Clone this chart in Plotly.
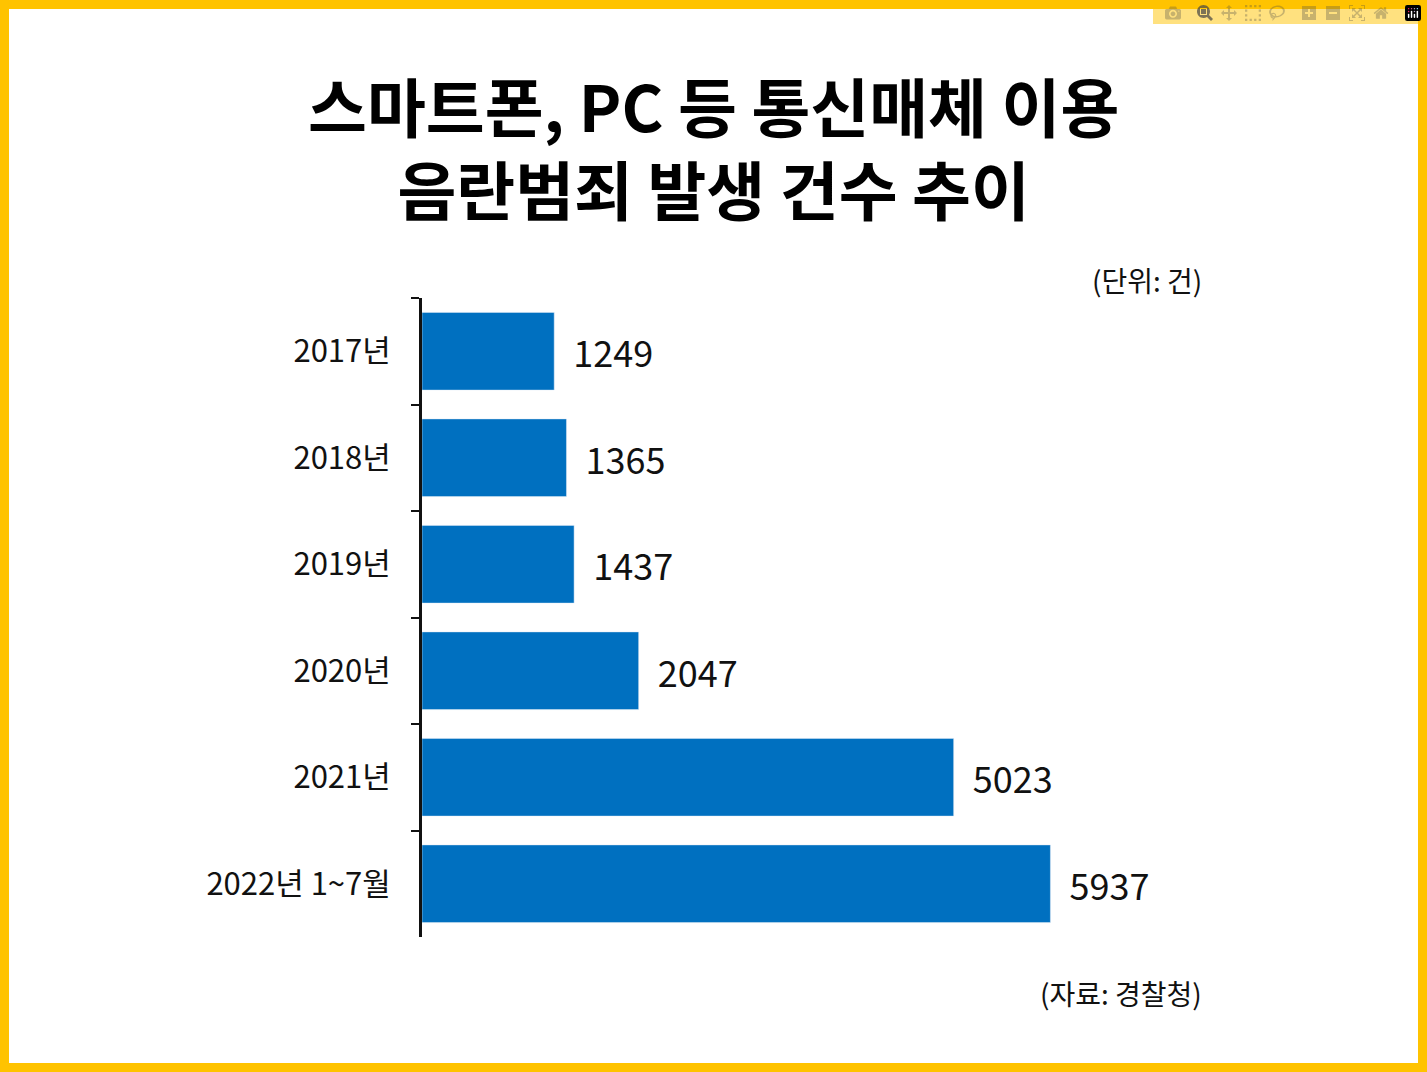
import plotly.graph_objects as go

years = ["2017년", "2018년", "2019년", "2020년", "2021년", "2022년 1~7월"]
cases = [1249, 1365, 1437, 2047, 5023, 5937]

W, H = 1427, 1072
L, R, T, B = 422, 317, 298, 135
pw, ph = W - L - R, H - T - B


def px(x):
    return (x - L) / pw


def py(y):
    return (H - B - y) / ph


fig = go.Figure(go.Bar(
    x=cases, y=years, orientation="h",
    marker_color="#0070C0",
    text=["  " + str(v) for v in cases], textposition="outside",
    textfont=dict(size=36, color="#111"),
    cliponaxis=False,
))

fig.add_shape(type="rect", xref="paper", yref="paper",
              x0=px(9), x1=px(W - 9), y0=py(H - 9), y1=py(9),
              fillcolor="white", line_width=0, layer="below")

font = "Noto Sans CJK KR"
fig.add_annotation(xref="paper", yref="paper", x=px(W / 2), y=py(145),
                   text="<b>스마트폰, PC 등 통신매체 이용<br>음란범죄 발생 건수 추이</b>",
                   showarrow=False, font=dict(size=64, color="#000", family=font),
                   xanchor="center", yanchor="middle")
fig.add_annotation(xref="paper", yref="paper", x=px(1204), y=py(258),
                   text="(단위: 건)", showarrow=False, xanchor="right",
                   font=dict(size=28, color="#111", family=font))
fig.add_annotation(xref="paper", yref="paper", x=px(1204), y=py(1015),
                   text="(자료: 경찰청)", showarrow=False, xanchor="right",
                   font=dict(size=28, color="#111", family=font))

fig.update_layout(
    width=W, height=H,
    margin=dict(l=L, r=R, t=T, b=B),
    paper_bgcolor="#FFC300", plot_bgcolor="white",
    font=dict(family=font, color="#111"),
    bargap=0.27, showlegend=False,
    xaxis=dict(range=[0, 6500], visible=False),
    yaxis=dict(categoryorder="array", categoryarray=years, autorange="reversed",
               showline=True, linecolor="#111", linewidth=3,
               ticks="outside", ticklen=8, tickwidth=2, tickcolor="#111",
               tickson="boundaries", tickfont=dict(size=31), ticklabelstandoff=22,
               showgrid=False),
)
fig.write_html("out.html", post_script="document.body.style.margin='0';")
